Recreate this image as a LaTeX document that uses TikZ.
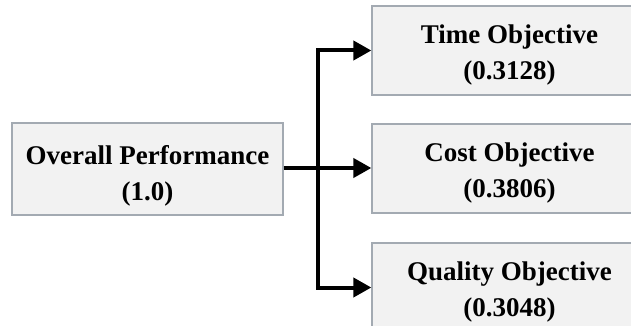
\documentclass[tikz,border=0pt]{standalone}
\usepackage{fontspec}
\setmainfont{Liberation Serif}
\usepackage{tikz, xcolor}
\usetikzlibrary{arrows.meta}

\definecolor{boxfill}{HTML}{F2F2F2}
\definecolor{boxline}{HTML}{A3AAB2}

\begin{document}
\begin{tikzpicture}[x=1pt, y=-1pt]
\tikzstyle{vertexr}=[rectangle, draw=boxline, fill=boxfill, line width=1.3pt, inner sep=2pt,
  align=center, font=\fontsize{27}{36}\selectfont\bfseries]
\tikzstyle{drawstyle}=[line width=4pt, line join=miter, -{Triangle[length=18pt, width=19pt]}]

\useasboundingbox (0,0) rectangle (631,326);

\node[vertexr, minimum width=271pt, minimum height=92pt] (Overall) at (147.5,169) {\rule{0pt}{33pt}Overall Performance\\(1.0)};
\node[vertexr, minimum width=275pt, minimum height=89pt] (Time) at (509.5,50.5) {\rule{0pt}{27pt}Time Objective\\(0.3128)};
\node[vertexr, minimum width=275pt, minimum height=89pt] (Cost) at (509.5,168.5) {\rule{0pt}{27pt}Cost Objective\\(0.3806)};
\node[vertexr, minimum width=275pt, minimum height=89pt] (Quality) at (509.5,287.5) {\rule{0pt}{27pt}Quality Objective\\(0.3048)};

\coordinate (J) at (318,168);
\draw[drawstyle] (Overall.east |- J) -- (Cost.west |- J);
\draw[drawstyle] (J) |- (Time.west);
\draw[drawstyle] (J) |- (Quality.west);
\end{tikzpicture}
\end{document}
